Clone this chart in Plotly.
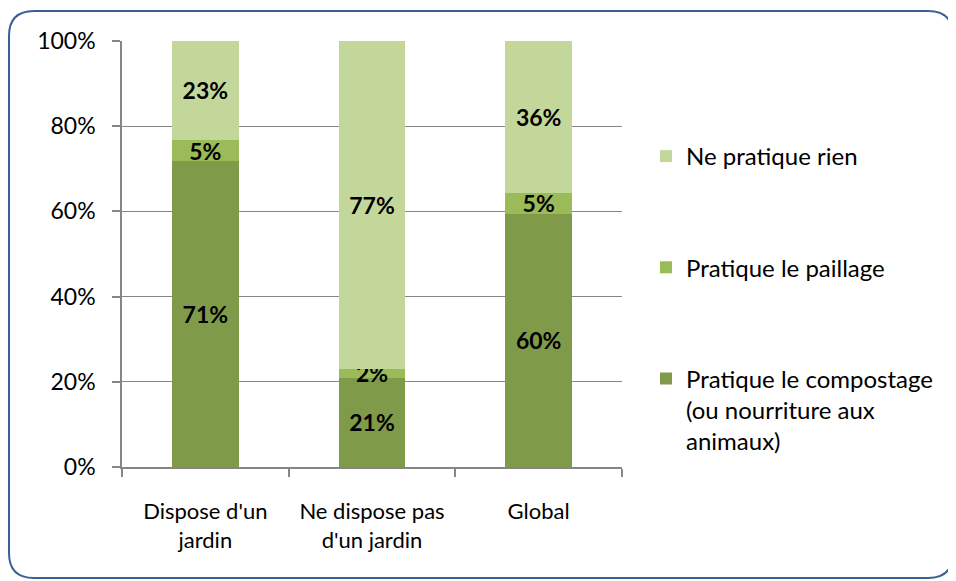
import plotly.graph_objects as go

categories = ["Dispose d'un<br>jardin", "Ne dispose pas<br>d'un jardin", "Global"]
compostage = [71, 21, 60]
paillage = [5, 2, 5]
rien = [23, 77, 36]

series_names = ["Pratique le compostage<br>(ou nourriture aux<br>animaux)",
                "Pratique le paillage",
                "Ne pratique rien"]
colors = ["#7F9B4A", "#9BBB59", "#C4D79B"]
ranks = [3, 2, 1]

# page has an 8px body margin, so figure coords = page coords - 8
W, H = 948, 573
L, T = 114, 33
PW, PH = 500, 426
R = W - L - PW
B = H - T - PH
FONT = "Lato, Open Sans, sans-serif"

fig = go.Figure()
for i, (name, vals, col, rk) in enumerate(zip(series_names, [compostage, paillage, rien], colors, ranks)):
    fig.add_trace(go.Bar(
        x=categories, y=vals, name=name, legendgroup=f"g{i}", legendrank=rk,
        marker=dict(color=col, line=dict(width=0)),
        text=[f"{v}%" for v in vals], textposition="inside",
        insidetextanchor="middle", textangle=0,
        textfont=dict(family=FONT, size=23, color="black", weight="bold"),
    ))

def px(x):
    return (x - L) / PW

def py(y):
    return (H - B - y) / PH

x0, x1, y0, y1, r = 1, 945, 3, 570, 25
path = (f"M {px(x0+r)},{py(y0)} L {px(x1-r)},{py(y0)} Q {px(x1)},{py(y0)} {px(x1)},{py(y0+r)} "
        f"L {px(x1)},{py(y1-r)} Q {px(x1)},{py(y1)} {px(x1-r)},{py(y1)} "
        f"L {px(x0+r)},{py(y1)} Q {px(x0)},{py(y1)} {px(x0)},{py(y1-r)} "
        f"L {px(x0)},{py(y0+r)} Q {px(x0)},{py(y0)} {px(x0+r)},{py(y0)} Z")

fig.update_layout(
    width=W, height=H,
    margin=dict(l=L, r=R, t=T, b=B),
    barmode="stack", barnorm="percent", bargap=0.6,
    plot_bgcolor="white", paper_bgcolor="white",
    font=dict(family=FONT, size=22, color="black"),
    uniformtext=dict(minsize=23, mode="show"),
    showlegend=True,
    legend=dict(traceorder="grouped", tracegroupgap=77,
                x=px(638), xanchor="left", y=py(126), yanchor="top",
                valign="top", font=dict(family=FONT, size=24, color="black"),
                itemwidth=30),
    shapes=[dict(type="path", xref="paper", yref="paper", path=path,
                 line=dict(color="#3B6096", width=2), layer="below")],
    xaxis=dict(showline=True, linecolor="#868686", linewidth=1.5,
               ticks="outside", tickson="boundaries", ticklen=8, tickcolor="#868686",
               tickwidth=1.5, ticklabelstandoff=24, showgrid=False,
               tickfont=dict(family=FONT, size=22, color="black")),
    yaxis=dict(range=[0, 100], dtick=20, ticksuffix="%", showline=True,
               linecolor="#868686", linewidth=1.5, ticks="outside", ticklen=8,
               tickcolor="#868686", tickwidth=1.5, showgrid=True,
               gridcolor="#868686", gridwidth=1.2, zeroline=False,
               ticklabelstandoff=12,
               tickfont=dict(family=FONT, size=23, color="black")),
)

fig.write_html("out.html")
